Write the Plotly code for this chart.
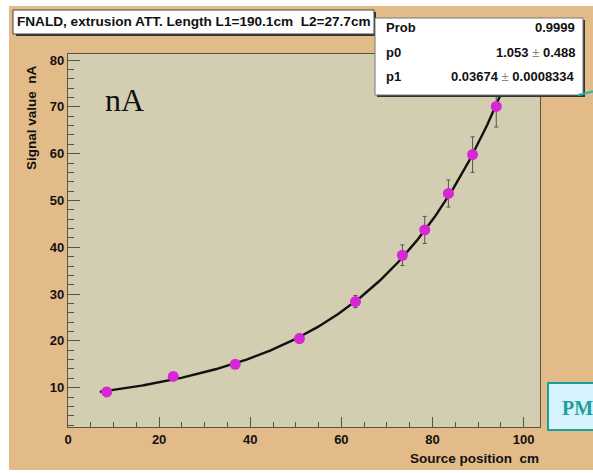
import numpy as np
import plotly.graph_objects as go

# ---- data ----
source_position = [8.5, 23.1, 36.7, 50.8, 63.1, 73.4, 78.3, 83.5, 88.8, 94.0]
signal_value = [9.1, 12.4, 15.0, 20.5, 28.4, 38.3, 43.7, 51.5, 59.8, 70.1]
signal_error = [0.6, 0.7, 0.8, 1.0, 1.3, 2.2, 2.9, 2.9, 3.8, 4.4]

# double exponential fit, attenuation lengths from the title
fit_amp = [2.021, 6.267]
fit_len = [27.7, 190.1]
fit_x_range = [7.0, 98.0]

title_text = "FNALD, extrusion ATT. Length L1=190.1cm  L2=27.7cm"
stats_names = ["Prob", "p0", "p1"]
stats_values = ["0.9999", "1.053", "0.03674"]
stats_errors = ["", "0.488", "0.0008334"]

W, H = 593, 473
L, R, T, B = 68, 540, 54, 427

def px(x):
    return (x - L) / (R - L)

def py(y):
    return (B - y) / (B - T)

fx = np.linspace(fit_x_range[0], fit_x_range[1], 200)
fy = fit_amp[0] * np.exp(fx / fit_len[0]) + fit_amp[1] * np.exp(fx / fit_len[1])

fig = go.Figure()
fig.add_trace(go.Scatter(x=fx, y=fy, mode="lines",
                         line=dict(color="#111111", width=2.4),
                         hoverinfo="skip", showlegend=False))
fig.add_trace(go.Scatter(x=source_position, y=signal_value, mode="markers",
                         marker=dict(color="#D626D6", size=11,
                                     line=dict(width=0)),
                         error_y=dict(type="data", array=signal_error,
                                      color="#555555", thickness=1, width=2),
                         showlegend=False))

shapes = []
# white page edges around the orange canvas
for (x0, x1, y0, y1) in [(-5, 9, -5, 480), (-5, 600, -5, 6), (-5, 600, 470, 480)]:
    shapes.append(dict(type="rect", xref="paper", yref="paper",
                       x0=px(x0), x1=px(x1), y0=py(y0), y1=py(y1),
                       fillcolor="white", line=dict(width=0), layer="below"))
# title box shadow + box
shapes.append(dict(type="rect", xref="paper", yref="paper",
                   x0=px(16), x1=px(376), y0=py(12), y1=py(36),
                   fillcolor="#333333", line=dict(width=0), layer="above"))
shapes.append(dict(type="rect", xref="paper", yref="paper",
                   x0=px(13), x1=px(374), y0=py(10), y1=py(34),
                   fillcolor="white", line=dict(color="#444444", width=1), layer="above"))
# stats box shadow + box
shapes.append(dict(type="rect", xref="paper", yref="paper",
                   x0=px(377), x1=px(585), y0=py(20), y1=py(97),
                   fillcolor="#333333", line=dict(width=0), layer="above"))
shapes.append(dict(type="rect", xref="paper", yref="paper",
                   x0=px(375), x1=px(583), y0=py(18), y1=py(95),
                   fillcolor="white", line=dict(color="#777777", width=1), layer="above"))
# teal arrow stub at right edge
shapes.append(dict(type="line", xref="paper", yref="paper",
                   x0=px(578), x1=px(600), y0=py(95), y1=py(90),
                   line=dict(color="#1FB5B5", width=2), layer="above"))
# PM box
shapes.append(dict(type="rect", xref="paper", yref="paper",
                   x0=px(548), x1=px(620), y0=py(383), y1=py(430),
                   fillcolor="#D6F2FC", line=dict(color="#1E9E9E", width=2), layer="above"))

annotations = []
annotations.append(dict(xref="paper", yref="paper", x=px(15), y=py(22),
                        xanchor="left", yanchor="middle", showarrow=False,
                        text="<b>%s</b>" % title_text,
                        font=dict(family="Liberation Sans", size=13.6, color="#111111")))
row_y = [28, 52, 76]
for name, val, err, yy in zip(stats_names, stats_values, stats_errors, row_y):
    annotations.append(dict(xref="paper", yref="paper", x=px(384), y=py(yy),
                            xanchor="left", yanchor="middle", showarrow=False,
                            text="<b>%s</b>" % name,
                            font=dict(family="Liberation Sans", size=13, color="#111111")))
    if err:
        txt = "<b>%s</b><span style='color:#888888'> ± </span><b>%s</b>" % (val, err)
    else:
        txt = "<b>%s</b>" % val
    annotations.append(dict(xref="paper", yref="paper", x=px(577), y=py(yy),
                            xanchor="right", yanchor="middle", showarrow=False,
                            text=txt,
                            font=dict(family="Liberation Sans", size=13, color="#111111")))
annotations.append(dict(xref="paper", yref="paper", x=px(103), y=py(100),
                        xanchor="left", yanchor="middle", showarrow=False,
                        text="nA",
                        font=dict(family="Liberation Serif", size=32, color="#111111")))
annotations.append(dict(xref="paper", yref="paper", x=px(560), y=py(408),
                        xanchor="left", yanchor="middle", showarrow=False,
                        text="<b>PM</b>",
                        font=dict(family="Liberation Serif", size=20, color="#1E9E9E")))
annotations.append(dict(xref="paper", yref="paper", x=px(541), y=py(458),
                        xanchor="right", yanchor="middle", showarrow=False,
                        text="<b>Source position  cm</b>",
                        font=dict(family="Liberation Sans", size=13.5, color="#111111")))
annotations.append(dict(xref="paper", yref="paper", x=px(31), y=py(118),
                        xanchor="center", yanchor="middle", showarrow=False,
                        textangle=-90,
                        text="<b>Signal value  nA</b>",
                        font=dict(family="Liberation Sans", size=13.5, color="#111111")))

axis_common = dict(showgrid=False, zeroline=False, showline=True, mirror=True,
                   linecolor="#555544", linewidth=1.2, ticks="inside",
                   tickcolor="#555544",
                   tickfont=dict(family="Liberation Sans", size=13, color="#111111"))

fig.update_layout(
    width=W, height=H,
    margin=dict(l=L, r=W - R, t=T, b=H - B, pad=0),
    paper_bgcolor="#E3BB88",
    plot_bgcolor="#D3CDB1",
    showlegend=False,
    xaxis=dict(range=[0, 103.6], dtick=20, tick0=0, ticklen=10, tickwidth=1.2,
               tickprefix="<b>", ticksuffix="</b>",
               minor=dict(dtick=5, ticks="inside", ticklen=5, tickcolor="#555544", tickwidth=1),
               **axis_common),
    yaxis=dict(range=[1.6, 81.3], dtick=10, tick0=0, ticklen=12, tickwidth=1.2,
               tickprefix="<b>", ticksuffix="</b>",
               minor=dict(dtick=2, ticks="inside", ticklen=6, tickcolor="#555544", tickwidth=1),
               **axis_common),
    shapes=shapes,
    annotations=annotations,
)

fig.write_html("out.html", config={"displayModeBar": False},
               post_script="document.body.style.margin='0';document.body.style.padding='0';")
